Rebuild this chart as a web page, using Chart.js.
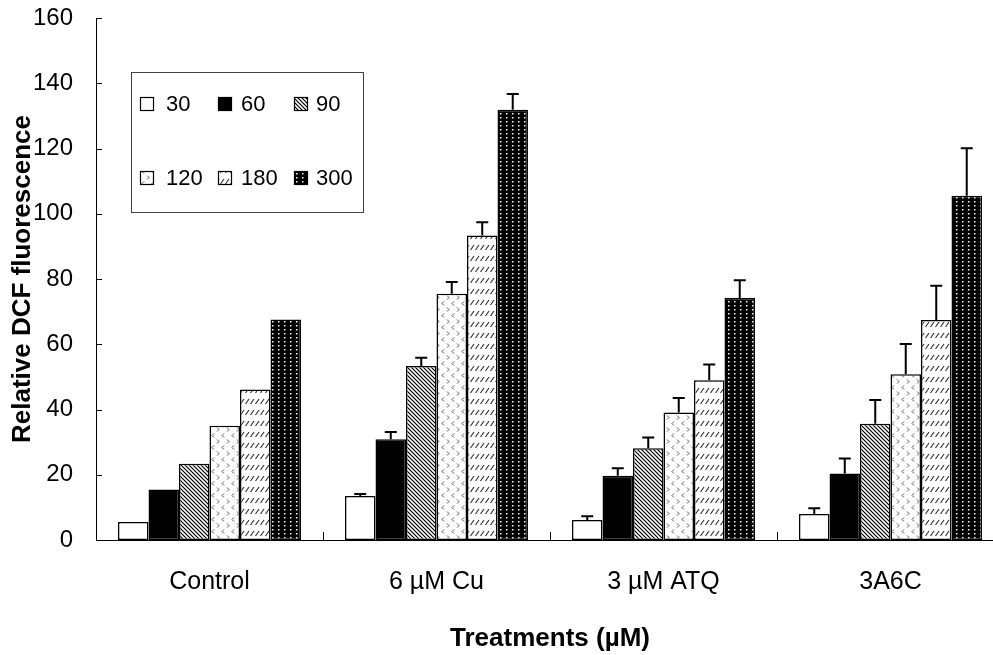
<!DOCTYPE html>
<html><head><meta charset="utf-8">
<script src="https://cdn.jsdelivr.net/npm/chart.js@4/dist/chart.umd.min.js"></script>
<style>
html,body{margin:0;padding:0;overflow:hidden;background:#fff;width:993px;height:655px}
canvas{display:block}
</style></head>
<body>
<canvas id="c" width="1006" height="655" style="width:1006px;height:655px"></canvas>
<script>
const categories = ['Control', '6 µM Cu', '3 µM ATQ', '3A6C'];
const seriesLabels = ['30', '60', '90', '120', '180', '300'];
const s30  = [5.5, 13.5, 6.1, 8.0];
const s60  = [15.5, 30.9, 19.7, 20.4];
const s90  = [23.4, 53.3, 28.1, 35.6];
const s120 = [35.0, 75.5, 39.1, 50.8];
const s180 = [46.1, 93.3, 49.0, 67.4];
const s300 = [67.6, 131.9, 74.2, 105.5];
const e30  = [0, 0.6, 1.2, 1.7];
const e60  = [0, 2.2, 2.3, 4.6];
const e90  = [0, 2.6, 3.3, 7.3];
const e120 = [0, 3.6, 4.4, 9.3];
const e180 = [0, 4.1, 4.8, 10.5];
const e300 = [0, 4.8, 5.4, 14.6];
const yTicks = [0, 20, 40, 60, 80, 100, 120, 140, 160];
const xTitle = 'Treatments (µM)';
const yTitle = 'Relative DCF fluorescence';

const FONT = "'Liberation Sans', Arial, sans-serif";

function makePattern(w, h, draw) {
  const c = document.createElement('canvas');
  c.width = w; c.height = h;
  const g = c.getContext('2d');
  draw(g, w, h);
  return document.getElementById('c').getContext('2d').createPattern(c, 'repeat');
}
const patWhite = '#ffffff';
const patBlack = '#000000';
const pat90 = makePattern(4, 4, (g, w, h) => {
  g.fillStyle = '#fff'; g.fillRect(0, 0, w, h);
  g.strokeStyle = '#000'; g.lineWidth = 1.2;
  for (let k = -1; k <= 1; k++) {
    g.beginPath(); g.moveTo(k * 4 - 1, -1); g.lineTo(k * 4 + 5, 5); g.stroke();
  }
});
const pat120 = makePattern(10, 12, (g, w, h) => {
  g.fillStyle = '#fff'; g.fillRect(0, 0, w, h);
  g.strokeStyle = '#555'; g.lineWidth = 1;
  g.beginPath(); g.moveTo(4, 1.5); g.lineTo(2, 3.5); g.lineTo(4, 5.5); g.stroke();
  g.beginPath(); g.moveTo(7, 7.5); g.lineTo(9, 9.5); g.lineTo(7, 11.5); g.stroke();
});
const pat180 = makePattern(5, 11, (g, w, h) => {
  g.fillStyle = '#fff'; g.fillRect(0, 0, w, h);
  g.strokeStyle = '#333'; g.lineWidth = 1.2;
  g.beginPath(); g.moveTo(0.5, 8); g.lineTo(4, 3); g.stroke();
});
const pat300 = makePattern(6, 4, (g, w, h) => {
  g.fillStyle = '#000'; g.fillRect(0, 0, w, h);
  g.fillStyle = '#fff'; g.fillRect(2, 1, 1.5, 1.5);
});

const fills = [patWhite, patBlack, pat90, pat120, pat180, pat300];
const seriesValues = [s30, s60, s90, s120, s180, s300];
const seriesErrors = [e30, e60, e90, e120, e180, e300];

const datasets = seriesLabels.map((lab, i) => ({
  label: lab,
  data: seriesValues[i],
  errors: seriesErrors[i],
  backgroundColor: fills[i],
  borderColor: '#000',
  borderWidth: 1.5,
  borderSkipped: false,
  barPercentage: 1.0,
  categoryPercentage: 0.806
}));

const errorBars = {
  id: 'errorBars',
  afterDatasetsDraw(chart) {
    const ctx = chart.ctx, y = chart.scales.y;
    ctx.save();
    ctx.strokeStyle = '#000'; ctx.lineWidth = 2;
    chart.data.datasets.forEach((ds, di) => {
      const meta = chart.getDatasetMeta(di);
      meta.data.forEach((el, i) => {
        const err = ds.errors[i];
        if (!err) return;
        const y0 = y.getPixelForValue(ds.data[i]);
        const y1 = y.getPixelForValue(ds.data[i] + err);
        ctx.beginPath();
        ctx.moveTo(el.x, y0); ctx.lineTo(el.x, y1);
        ctx.moveTo(el.x - 6, y1); ctx.lineTo(el.x + 6, y1);
        ctx.stroke();
      });
    });
    ctx.restore();
  }
};

const innerTicks = {
  id: 'innerTicks',
  afterDraw(chart) {
    const ctx = chart.ctx, a = chart.chartArea, y = chart.scales.y;
    ctx.save();
    ctx.strokeStyle = '#000'; ctx.lineWidth = 1;
    yTicks.forEach(v => {
      const py = Math.round(y.getPixelForValue(v)) + 0.5;
      ctx.beginPath(); ctx.moveTo(a.left, py); ctx.lineTo(a.left + 6, py); ctx.stroke();
    });
    const n = categories.length, cw = (a.right - a.left) / n;
    for (let i = 1; i < n; i++) {
      const px = Math.round(a.left + i * cw) + 0.5;
      ctx.beginPath(); ctx.moveTo(px, a.bottom); ctx.lineTo(px, a.bottom - 8); ctx.stroke();
    }
    ctx.restore();
  }
};

const boxLegend = {
  id: 'boxLegend',
  afterDraw(chart) {
    const ctx = chart.ctx;
    ctx.save();
    ctx.fillStyle = '#fff';
    ctx.fillRect(131, 72, 232, 140);
    ctx.strokeStyle = '#404040'; ctx.lineWidth = 1;
    ctx.strokeRect(131.5, 72.5, 232, 140);
    const sqX = [140, 218, 294], txX = [166, 241, 316], rowY = [104, 178];
    ctx.font = '22px ' + FONT;
    ctx.textBaseline = 'middle'; ctx.textAlign = 'left';
    chart.data.datasets.forEach((ds, i) => {
      const col = i % 3, row = Math.floor(i / 3);
      const sx = sqX[col], sy = rowY[row] - 7;
      ctx.fillStyle = ds.backgroundColor;
      ctx.fillRect(sx, sy, 14, 14);
      ctx.strokeStyle = '#000'; ctx.lineWidth = 1.2;
      ctx.strokeRect(sx + 0.5, sy + 0.5, 13, 13);
      ctx.fillStyle = '#000';
      ctx.fillText(ds.label, txX[col], rowY[row] + 1);
    });
    ctx.restore();
  }
};

Chart.defaults.font.family = FONT;
Chart.defaults.color = '#000';

new Chart(document.getElementById('c'), {
  type: 'bar',
  data: { labels: categories, datasets },
  options: {
    responsive: false,
    animation: false,
    devicePixelRatio: 1,
    layout: { padding: { left: 0, top: 18, right: 2, bottom: 0 } },
    plugins: { legend: { display: false }, tooltip: { enabled: false } },
    scales: {
      x: {
        grid: { display: false, drawTicks: false },
        border: { display: true, color: '#000', width: 1 },
        ticks: { font: { size: 25 }, color: '#000', padding: 27, maxRotation: 0, autoSkip: false },
        title: { display: true, text: xTitle, color: '#000', font: { size: 26, weight: 'bold' }, padding: { top: 0, bottom: 1 } },
        afterFit(s) { s.height = 115; }
      },
      y: {
        min: 0, max: 160,
        grid: { display: false, drawTicks: true, tickLength: 23 },
        border: { display: true, color: '#000', width: 1 },
        ticks: { font: { size: 24 }, color: '#000', padding: 0 },
        afterBuildTicks(s) { s.ticks = yTicks.map(v => ({ value: v })); },
        title: { display: true, text: yTitle, color: '#000', font: { size: 26, weight: 'bold' }, padding: { top: 7, bottom: 0 } },
        afterFit(s) { s.width = 96; }
      }
    }
  },
  plugins: [errorBars, innerTicks, boxLegend]
});
</script>
</body></html>
